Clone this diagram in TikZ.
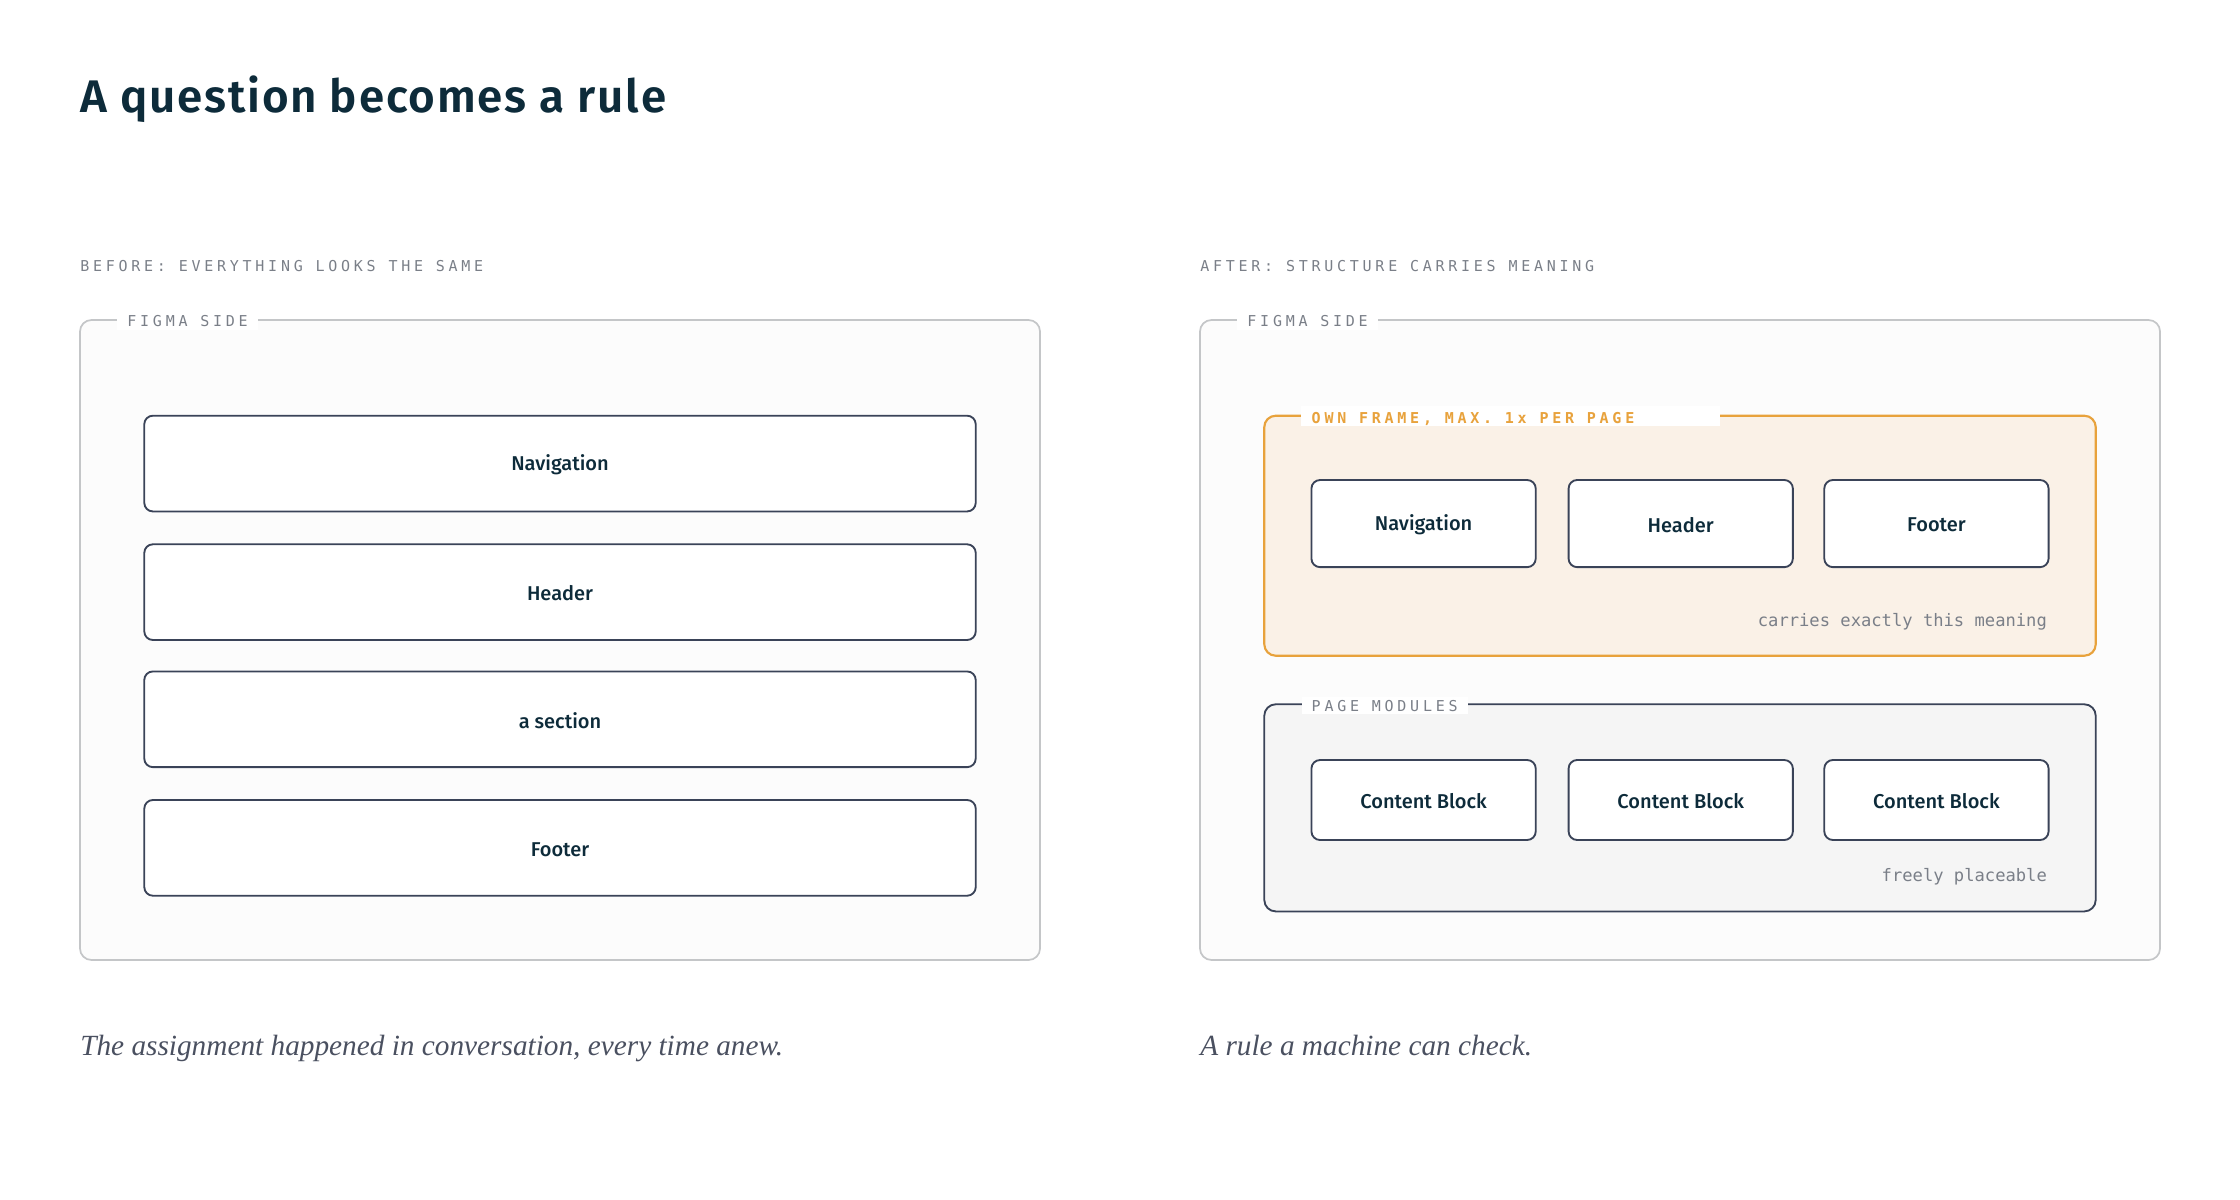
\documentclass[tikz,border=0pt]{standalone}
\usepackage{fontspec}
\setmainfont{Liberation Serif}
\setsansfont{Fira Sans}
\newfontfamily\titlefont[LetterSpace=4]{Fira Sans SemiBold}
\newfontfamily\medfont{Fira Sans Medium}
\newfontfamily\monolab[LetterSpace=25]{DejaVu Sans Mono}
\newfontfamily\mono{DejaVu Sans Mono}
\begin{document}
\definecolor{ink}{HTML}{0D2B3A}
\definecolor{gr}{HTML}{7A7F88}
\definecolor{bd}{HTML}{3A4358}
\definecolor{fr}{HTML}{C4C6C8}
\definecolor{org}{HTML}{E8A23C}
\definecolor{orgf}{HTML}{FAF1E7}
\definecolor{cap}{HTML}{4A5060}
\begin{tikzpicture}[x=1pt,y=-1pt,
  frame/.style={draw=fr,line width=1.2pt,rounded corners=8pt,fill=white!99!black},
  box/.style={draw=bd,line width=1.3pt,rounded corners=6pt,fill=white},
  lbl/.style={font=\medfont\fontsize{14}{16}\selectfont,text=ink},
  sec/.style={font=\monolab\fontsize{10.5}{12}\selectfont,text=gr,anchor=west,inner sep=0pt},
  tag/.style={font=\monolab\fontsize{10.5}{12}\selectfont,anchor=west,inner xsep=7pt,inner ysep=2pt},
  note/.style={font=\mono\fontsize{12}{14}\selectfont,text=gr,anchor=east,inner sep=0pt},
  capt/.style={font=\itshape\fontsize{20.5}{24}\selectfont,text=cap,anchor=base west,inner sep=0pt}]
\useasboundingbox (0,0) rectangle (1568,840);
\node[anchor=base west,inner sep=0pt,font=\titlefont\fontsize{32}{36}\selectfont,text=ink] (title) at (56,79) {A question becomes a rule};
\node[sec] (s1) at (56,186) {BEFORE: EVERYTHING LOOKS THE SAME};
\node[sec] (s2) at (840,186) {AFTER: STRUCTURE CARRIES MEANING};
% left
\draw[frame] (56,224) rectangle (728,672);
\node[tag,fill=white,text=gr] (f1) at (82,225) {FIGMA SIDE};
\foreach \n/\y/\t in {n1/291/Navigation,h1/381/Header,a1/470/a section,f1b/560/Footer}{
  \draw[box] (101,\y) rectangle (683,\y+67);
  \node[lbl] (\n) at (392,\y+34.5) {\t};
}
% right
\draw[frame] (840,224) rectangle (1512,672);
\node[tag,fill=white,text=gr] (f2) at (866,225) {FIGMA SIDE};
\draw[draw=org,line width=1.5pt,rounded corners=8pt,fill=orgf] (885,291) rectangle (1467,459);
\fill[white] (911,284) rectangle (1204,298);
\node[tag,text=org,font=\monolab\bfseries\fontsize{10.5}{12}\selectfont] (own) at (911,293) {OWN FRAME, MAX. 1x PER PAGE};
\foreach \n/\x/\t in {n2/918/Navigation,h2/1098/Header,f2b/1277/Footer}{
  \draw[box] (\x,336) rectangle (\x+157,397);
  \node[lbl] (\n) at (\x+78.5,367.5) {\t};
}
\node[note] (cm) at (1433,435) {carries exactly this meaning};
\draw[draw=bd,line width=1.3pt,rounded corners=8pt,fill=black!4!white] (885,493) rectangle (1467,638);
\node[tag,fill=white,text=gr] (pm) at (911,494) {PAGE MODULES};
\foreach \n/\x in {c1/918,c2/1098,c3/1277}{
  \draw[box] (\x,532) rectangle (\x+157,588);
  \node[lbl] (\n) at (\x+78.5,561) {Content Block};
}
\node[note] (fp) at (1433,614) {freely placeable};
\node[capt] (c1t) at (56,739) {The assignment happened in conversation, every time anew.};
\node[capt] (c2t) at (840,739) {A rule a machine can check.};
\end{tikzpicture}
\end{document}
